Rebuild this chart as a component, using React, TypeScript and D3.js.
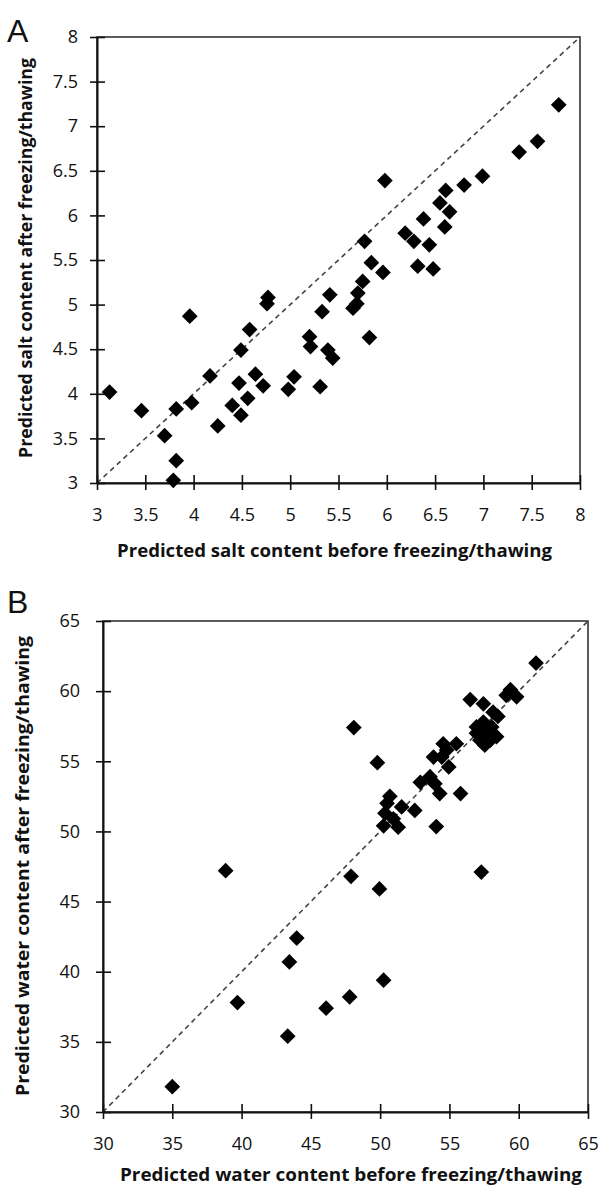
import React, { useEffect, useRef } from "react";
import * as d3 from "d3";

// panel A: salt content (before vs after freezing/thawing)
const saltBefore = [3.13, 3.46, 3.70, 3.79, 3.82, 3.82, 3.96, 3.98, 4.17, 4.25, 4.40, 4.47, 4.49, 4.49, 4.56, 4.58, 4.64, 4.72, 4.76, 4.77, 4.98, 5.04, 5.20, 5.21, 5.31, 5.33, 5.39, 5.41, 5.44, 5.65, 5.69, 5.70, 5.75, 5.77, 5.84, 5.82, 5.96, 5.98, 6.19, 6.28, 6.32, 6.38, 6.44, 6.48, 6.55, 6.61, 6.60, 6.65, 6.80, 6.99, 7.37, 7.56, 7.78];
const saltAfter = [4.02, 3.81, 3.53, 3.03, 3.25, 3.83, 4.87, 3.90, 4.20, 3.64, 3.87, 4.12, 3.76, 4.49, 3.95, 4.72, 4.22, 4.09, 5.01, 5.08, 4.05, 4.19, 4.64, 4.53, 4.08, 4.92, 4.49, 5.11, 4.40, 4.96, 5.01, 5.13, 5.26, 5.71, 5.47, 4.63, 5.36, 6.39, 5.80, 5.71, 5.43, 5.96, 5.67, 5.40, 6.14, 6.28, 5.87, 6.04, 6.34, 6.44, 6.71, 6.83, 7.24];
const saltTicks = [3, 3.5, 4, 4.5, 5, 5.5, 6, 6.5, 7, 7.5, 8];
const saltTickLabels = ["3", "3.5", "4", "4.5", "5", "5.5", "6", "6.5", "7", "7.5", "8"];

// panel B: water content
const waterBefore = [35.0, 38.85, 39.7, 43.33, 43.45, 43.98, 46.1, 47.8, 47.9, 48.1, 49.8, 49.95, 50.25, 50.25, 50.35, 50.5, 50.7, 50.95, 51.3, 51.55, 52.5, 52.9, 53.6, 53.95, 54.05, 54.3, 53.85, 54.45, 54.55, 54.8, 54.95, 55.5, 55.8, 56.5, 57.3, 57.45, 57.45, 56.95, 58.05, 58.4, 57.2, 57.55, 57.95, 56.95, 58.15, 58.5, 59.1, 59.4, 59.85, 61.25, 57.6, 57.5];
const waterAfter = [31.8, 47.2, 37.8, 35.4, 40.7, 42.4, 37.4, 38.2, 46.8, 57.4, 54.9, 45.9, 39.4, 50.4, 51.3, 52.0, 52.5, 50.9, 50.3, 51.75, 51.5, 53.5, 53.9, 53.4, 50.35, 52.7, 55.3, 55.3, 56.25, 55.8, 54.6, 56.25, 52.7, 59.4, 47.1, 59.1, 57.8, 57.45, 57.45, 56.75, 56.5, 56.15, 56.5, 57.0, 58.5, 58.2, 59.7, 60.1, 59.6, 62.0, 57.1, 56.7];
const waterTicks = [30, 35, 40, 45, 50, 55, 60, 65];
const waterTickLabels = ["30", "35", "40", "45", "50", "55", "60", "65"];

const FONT = "'Open Sans', sans-serif";

const drawPanel = (g, p) => {
  const x = d3.scaleLinear().domain(p.domain).range([p.left, p.right]);
  const y = d3.scaleLinear().domain(p.domain).range([p.bottom, p.top]);

  g.append("rect")
    .attr("x", p.left)
    .attr("y", p.top)
    .attr("width", p.right - p.left)
    .attr("height", p.bottom - p.top)
    .attr("fill", "none")
    .attr("stroke", "#333")
    .attr("stroke-width", 1.6);

  // 1:1 line
  g.append("line")
    .attr("x1", x(p.domain[0]))
    .attr("y1", y(p.domain[0]))
    .attr("x2", x(p.domain[1]))
    .attr("y2", y(p.domain[1]))
    .attr("stroke", "#444")
    .attr("stroke-width", 1.6)
    .attr("stroke-dasharray", "5,4");

  const xa = g
    .append("g")
    .attr("transform", `translate(0,${p.bottom})`)
    .call(
      d3.axisBottom(x).tickValues(p.ticks).tickFormat((d, i) => p.tickLabels[i]).tickSizeOuter(0)
    )
    .attr("font-family", FONT)
    .attr("font-size", 18);
  xa.select(".domain").attr("stroke", "#111").attr("stroke-width", 2);
  xa.selectAll(".tick line").attr("y1", -8).attr("y2", 7).attr("stroke", "#111").attr("stroke-width", 1.6);
  xa.selectAll(".tick text").attr("y", 38).attr("dy", null).attr("fill", "#111");

  const ya = g
    .append("g")
    .attr("transform", `translate(${p.left},0)`)
    .call(
      d3.axisLeft(y).tickValues(p.ticks).tickFormat((d, i) => p.tickLabels[i]).tickSizeOuter(0)
    )
    .attr("font-family", FONT)
    .attr("font-size", 18);
  ya.select(".domain").attr("stroke", "#111").attr("stroke-width", 2);
  ya.selectAll(".tick line").attr("x1", -7).attr("x2", 8).attr("stroke", "#111").attr("stroke-width", 1.6);
  ya.selectAll(".tick text").attr("x", p.yLabelEnd - p.left).attr("fill", "#111");

  g.selectAll("path.pt")
    .data(d3.zip(p.before, p.after))
    .join("path")
    .attr("class", "pt")
    .attr("d", d3.symbol(d3.symbolSquare, 124))
    .attr("transform", d => `translate(${x(d[0])},${y(d[1])}) rotate(45)`)
    .attr("fill", "#000");

  g.append("text")
    .attr("x", p.xTitleX)
    .attr("y", p.xTitleY)
    .attr("textLength", p.xTitleLen)
    .attr("lengthAdjust", "spacingAndGlyphs")
    .attr("font-family", FONT)
    .attr("font-weight", "bold")
    .attr("font-size", 17)
    .attr("fill", "#111")
    .text(p.xTitle);

  g.append("text")
    .attr("transform", `translate(${p.yTitleX},${p.yTitleY}) rotate(-90)`)
    .attr("text-anchor", "middle")
    .attr("textLength", p.yTitleLen)
    .attr("lengthAdjust", "spacingAndGlyphs")
    .attr("font-family", FONT)
    .attr("font-weight", "bold")
    .attr("font-size", 17)
    .attr("fill", "#111")
    .text(p.yTitle);

  g.append("text")
    .attr("x", 7)
    .attr("y", p.letterY)
    .attr("font-family", "'Liberation Sans', Arial, sans-serif")
    .attr("font-size", 32)
    .attr("fill", "#111")
    .text(p.letter);
};

export default function App() {
  const ref = useRef(null);

  useEffect(() => {
    const svg = d3.select(ref.current);
    svg.selectAll("*").remove();

    drawPanel(svg.append("g"), {
      domain: [3, 8],
      left: 97,
      right: 580,
      top: 37,
      bottom: 483,
      ticks: saltTicks,
      tickLabels: saltTickLabels,
      before: saltBefore,
      after: saltAfter,
      yLabelEnd: 78,
      xTitle: "Predicted salt content before freezing/thawing",
      xTitleX: 117,
      xTitleY: 557,
      xTitleLen: 435,
      yTitle: "Predicted salt content after freezing/thawing",
      yTitleX: 32,
      yTitleY: 258,
      yTitleLen: 400,
      letter: "A",
      letterY: 42,
    });

    drawPanel(svg.append("g"), {
      domain: [30, 65],
      left: 103,
      right: 588,
      top: 621,
      bottom: 1112,
      ticks: waterTicks,
      tickLabels: waterTickLabels,
      before: waterBefore,
      after: waterAfter,
      yLabelEnd: 80,
      xTitle: "Predicted water content before freezing/thawing",
      xTitleX: 120,
      xTitleY: 1181,
      xTitleLen: 462,
      yTitle: "Predicted water content after freezing/thawing",
      yTitleX: 29,
      yTitleY: 866,
      yTitleLen: 460,
      letter: "B",
      letterY: 613,
    });
  }, []);

  return (
    <svg
      ref={ref}
      width={600}
      height={1185}
      style={{ position: "absolute", left: 0, top: 0, background: "#fff" }}
    />
  );
}
